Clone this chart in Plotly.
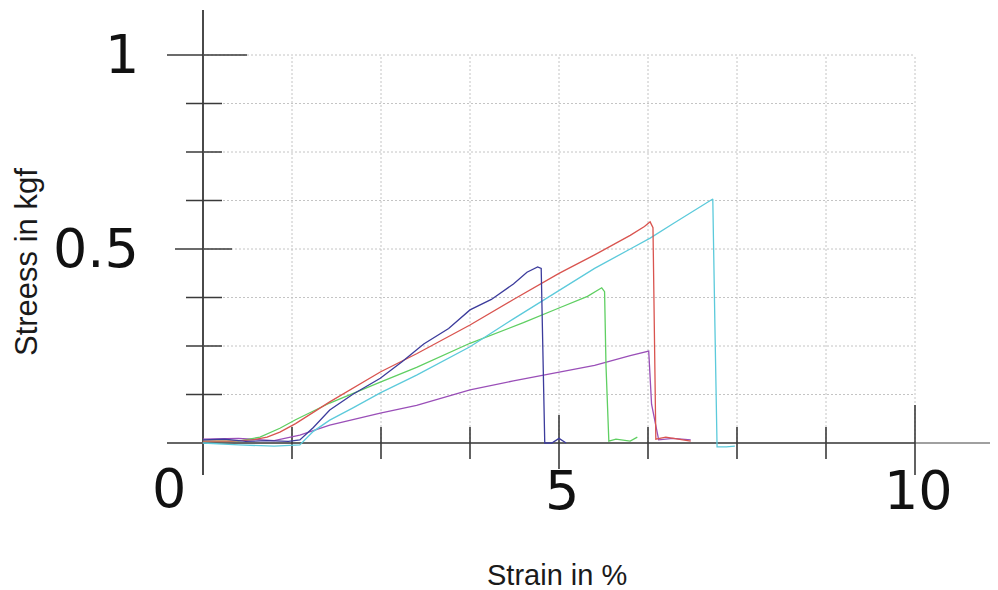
import plotly.graph_objects as go

# ---------------- data ----------------
blue_x = [0, 0.3, 0.6, 0.9, 1.2, 1.36, 1.55, 1.78, 2.1, 2.49, 2.8, 3.1, 3.45, 3.75, 4.05, 4.36, 4.55, 4.7, 4.75, 4.77, 4.8, 4.9, 5.0, 5.1]
blue_y = [0.008, 0.01, 0.004, 0.006, 0.004, 0.008, 0.04, 0.085, 0.125, 0.167, 0.21, 0.255, 0.295, 0.343, 0.37, 0.41, 0.44, 0.454, 0.45, 0.3, 0.0, 0.0, 0.012, 0.0]

red_x = [0, 0.4, 0.7, 0.9, 1.08, 1.3, 1.78, 2.1, 2.49, 3.0, 3.75, 4.36, 5.0, 5.5, 6.0, 6.2, 6.28, 6.32, 6.36, 6.5, 6.7, 6.85]
red_y = [0.005, 0.005, 0.008, 0.015, 0.028, 0.05, 0.106, 0.14, 0.183, 0.23, 0.304, 0.37, 0.437, 0.485, 0.535, 0.558, 0.57, 0.555, 0.01, 0.015, 0.01, 0.005]

green_x = [0, 0.5, 0.8, 1.08, 1.3, 1.78, 2.49, 3.0, 3.75, 4.5, 5.0, 5.4, 5.6, 5.64, 5.66, 5.7, 5.8, 6.0, 6.1]
green_y = [0.005, 0.005, 0.015, 0.038, 0.06, 0.103, 0.157, 0.195, 0.257, 0.31, 0.348, 0.378, 0.40, 0.39, 0.2, 0.005, 0.01, 0.005, 0.015]

cyan_x = [0, 0.5, 1.0, 1.36, 1.55, 1.78, 2.1, 2.49, 3.0, 3.75, 4.36, 5.0, 5.5, 6.0, 6.28, 6.6, 7.0, 7.16, 7.19, 7.22, 7.35, 7.47]
cyan_y = [0.0, -0.005, -0.008, -0.005, 0.03, 0.059, 0.09, 0.129, 0.175, 0.248, 0.32, 0.394, 0.45, 0.5, 0.528, 0.565, 0.61, 0.629, 0.3, -0.01, -0.01, -0.008]

purple_x = [0, 0.5, 1.0, 1.36, 1.78, 2.49, 3.0, 3.75, 4.36, 5.0, 5.5, 6.0, 6.2, 6.26, 6.3, 6.4, 6.6, 6.85]
purple_y = [0.01, 0.012, 0.006, 0.02, 0.046, 0.077, 0.097, 0.137, 0.16, 0.183, 0.2, 0.225, 0.235, 0.237, 0.1, 0.008, 0.012, 0.008]

x_ticks = [1.25, 2.5, 3.75, 5.0, 6.25, 7.5, 8.75, 10.0]
y_ticks = [0.125, 0.25, 0.375, 0.5, 0.625, 0.75, 0.875, 1.0]
x_labels = [5, 10]
y_labels = [0.5, 1]
origin_label = "0"
x_title = "Strain in %"
y_title = "Streess in kgf"

# ---------------- figure ----------------
PAGE_W, PAGE_H = 998, 590
BODY = 8  # default page margin around the plot div
W, H = PAGE_W - BODY, PAGE_H - BODY
fig = go.Figure()

series = [
    (purple_x, purple_y, "#9a4fb8"),
    (green_x, green_y, "#5fcf62"),
    (cyan_x, cyan_y, "#5ccadb"),
    (red_x, red_y, "#d9544f"),
    (blue_x, blue_y, "#3c3c9c"),
]
for xs, ys, col in series:
    fig.add_trace(go.Scatter(x=xs, y=ys, mode="lines",
                             line=dict(color=col, width=1.3),
                             showlegend=False, hoverinfo="skip"))

shapes = []
grid_col = "#c4c4c4"
for xv in x_ticks:
    shapes.append(dict(type="line", xref="x", yref="y", x0=xv, x1=xv,
                       y0=0, y1=max(y_ticks), layer="below",
                       line=dict(color=grid_col, width=1, dash="2px,2px")))
for yv in y_ticks:
    shapes.append(dict(type="line", xref="x", yref="y", x0=0, x1=max(x_ticks),
                       y0=yv, y1=yv, layer="below",
                       line=dict(color=grid_col, width=1, dash="2px,2px")))

# axes lines
x_min_plot = None
shapes.append(dict(type="line", xref="paper", yref="y", x0=0, x1=1, y0=0, y1=0,
                   layer="below", line=dict(color="#a0a0a0", width=2)))
shapes.append(dict(type="line", xref="x", yref="y", x0=-1, x1=max(x_ticks), y0=0, y1=0,
                   layer="below", line=dict(color="#666666", width=2)))
shapes.append(dict(type="line", xref="x", yref="paper", x0=0, x1=0, y0=0, y1=1,
                   layer="below", line=dict(color="#4a4a4a", width=2)))

# ticks
for yv in y_ticks:
    if yv == max(y_ticks):
        a, b = -36, 44
    elif yv in y_labels:
        a, b = -28, 29
    else:
        a, b = -17, 19
    shapes.append(dict(type="line", xref="x", yref="y", xsizemode="pixel",
                       xanchor=0, x0=a, x1=b, y0=yv, y1=yv, layer="below",
                       line=dict(color="#3a3a3a", width=1.6)))
for xv in x_ticks:
    if xv == max(x_ticks):
        a, b = -39, 38
    elif xv in x_labels:
        a, b = -26, 28
    else:
        a, b = -16, 16
    shapes.append(dict(type="line", xref="x", yref="y", ysizemode="pixel",
                       yanchor=0, y0=a, y1=b, x0=xv, x1=xv, layer="below",
                       line=dict(color="#3a3a3a", width=1.6)))

num_font = dict(family="DejaVu Sans", size=54, color="#111111")
annotations = []
for yv in y_labels:
    annotations.append(dict(xref="x", yref="y", x=0, y=yv, text=f"{yv:g}",
                            showarrow=False, xanchor="right", yanchor="middle",
                            xshift=-62, yshift=1, font=num_font))
for xv in x_labels:
    annotations.append(dict(xref="x", yref="y", x=xv, y=0, text=f"{xv:g}",
                            showarrow=False, xanchor="center", yanchor="middle",
                            xshift=3, yshift=-47, font=num_font))
annotations.append(dict(xref="x", yref="y", x=0, y=0, text=origin_label,
                        showarrow=False, xanchor="center", yanchor="middle",
                        xshift=-34, yshift=-45, font=num_font))
title_font = dict(family="Liberation Sans", size=29, color="#1a1a1a")
annotations.append(dict(xref="x", yref="y", x=5, y=0, text=x_title,
                        showarrow=False, xanchor="center", yanchor="middle",
                        xshift=-2, yshift=-132, font=title_font))
annotations.append(dict(xref="x", yref="y", x=0, y=0.5, text=y_title,
                        showarrow=False, xanchor="center", yanchor="middle",
                        textangle=-90, xshift=-177, yshift=-13,
                        font=dict(family="Liberation Sans", size=31, color="#1a1a1a")))

# plot area on the page: px 167..998 horizontally, 10..475 vertically
px_per_x = 71.2
px_per_y = 388.0
x0_px, y0_px = 203, 443          # page pixel of data origin
plot_l, plot_r, plot_t, plot_b = 167, 998, 10, 475
l, t = plot_l - BODY, plot_t - BODY
r = PAGE_W - plot_r
b = H - (plot_b - BODY)
x_range = [-(x0_px - plot_l) / px_per_x, (plot_r - x0_px) / px_per_x]
y_range = [-(plot_b - y0_px) / px_per_y, (y0_px - plot_t) / px_per_y]

fig.update_layout(
    width=W, height=H,
    margin=dict(l=l, r=r, t=t, b=b, pad=0),
    paper_bgcolor="white", plot_bgcolor="white",
    shapes=shapes, annotations=annotations,
    xaxis=dict(range=x_range, showgrid=False, zeroline=False, showline=False,
               showticklabels=False, ticks="", fixedrange=True),
    yaxis=dict(range=y_range, showgrid=False, zeroline=False, showline=False,
               showticklabels=False, ticks="", fixedrange=True),
)

fig.write_html("out.html", config={"displayModeBar": False})
